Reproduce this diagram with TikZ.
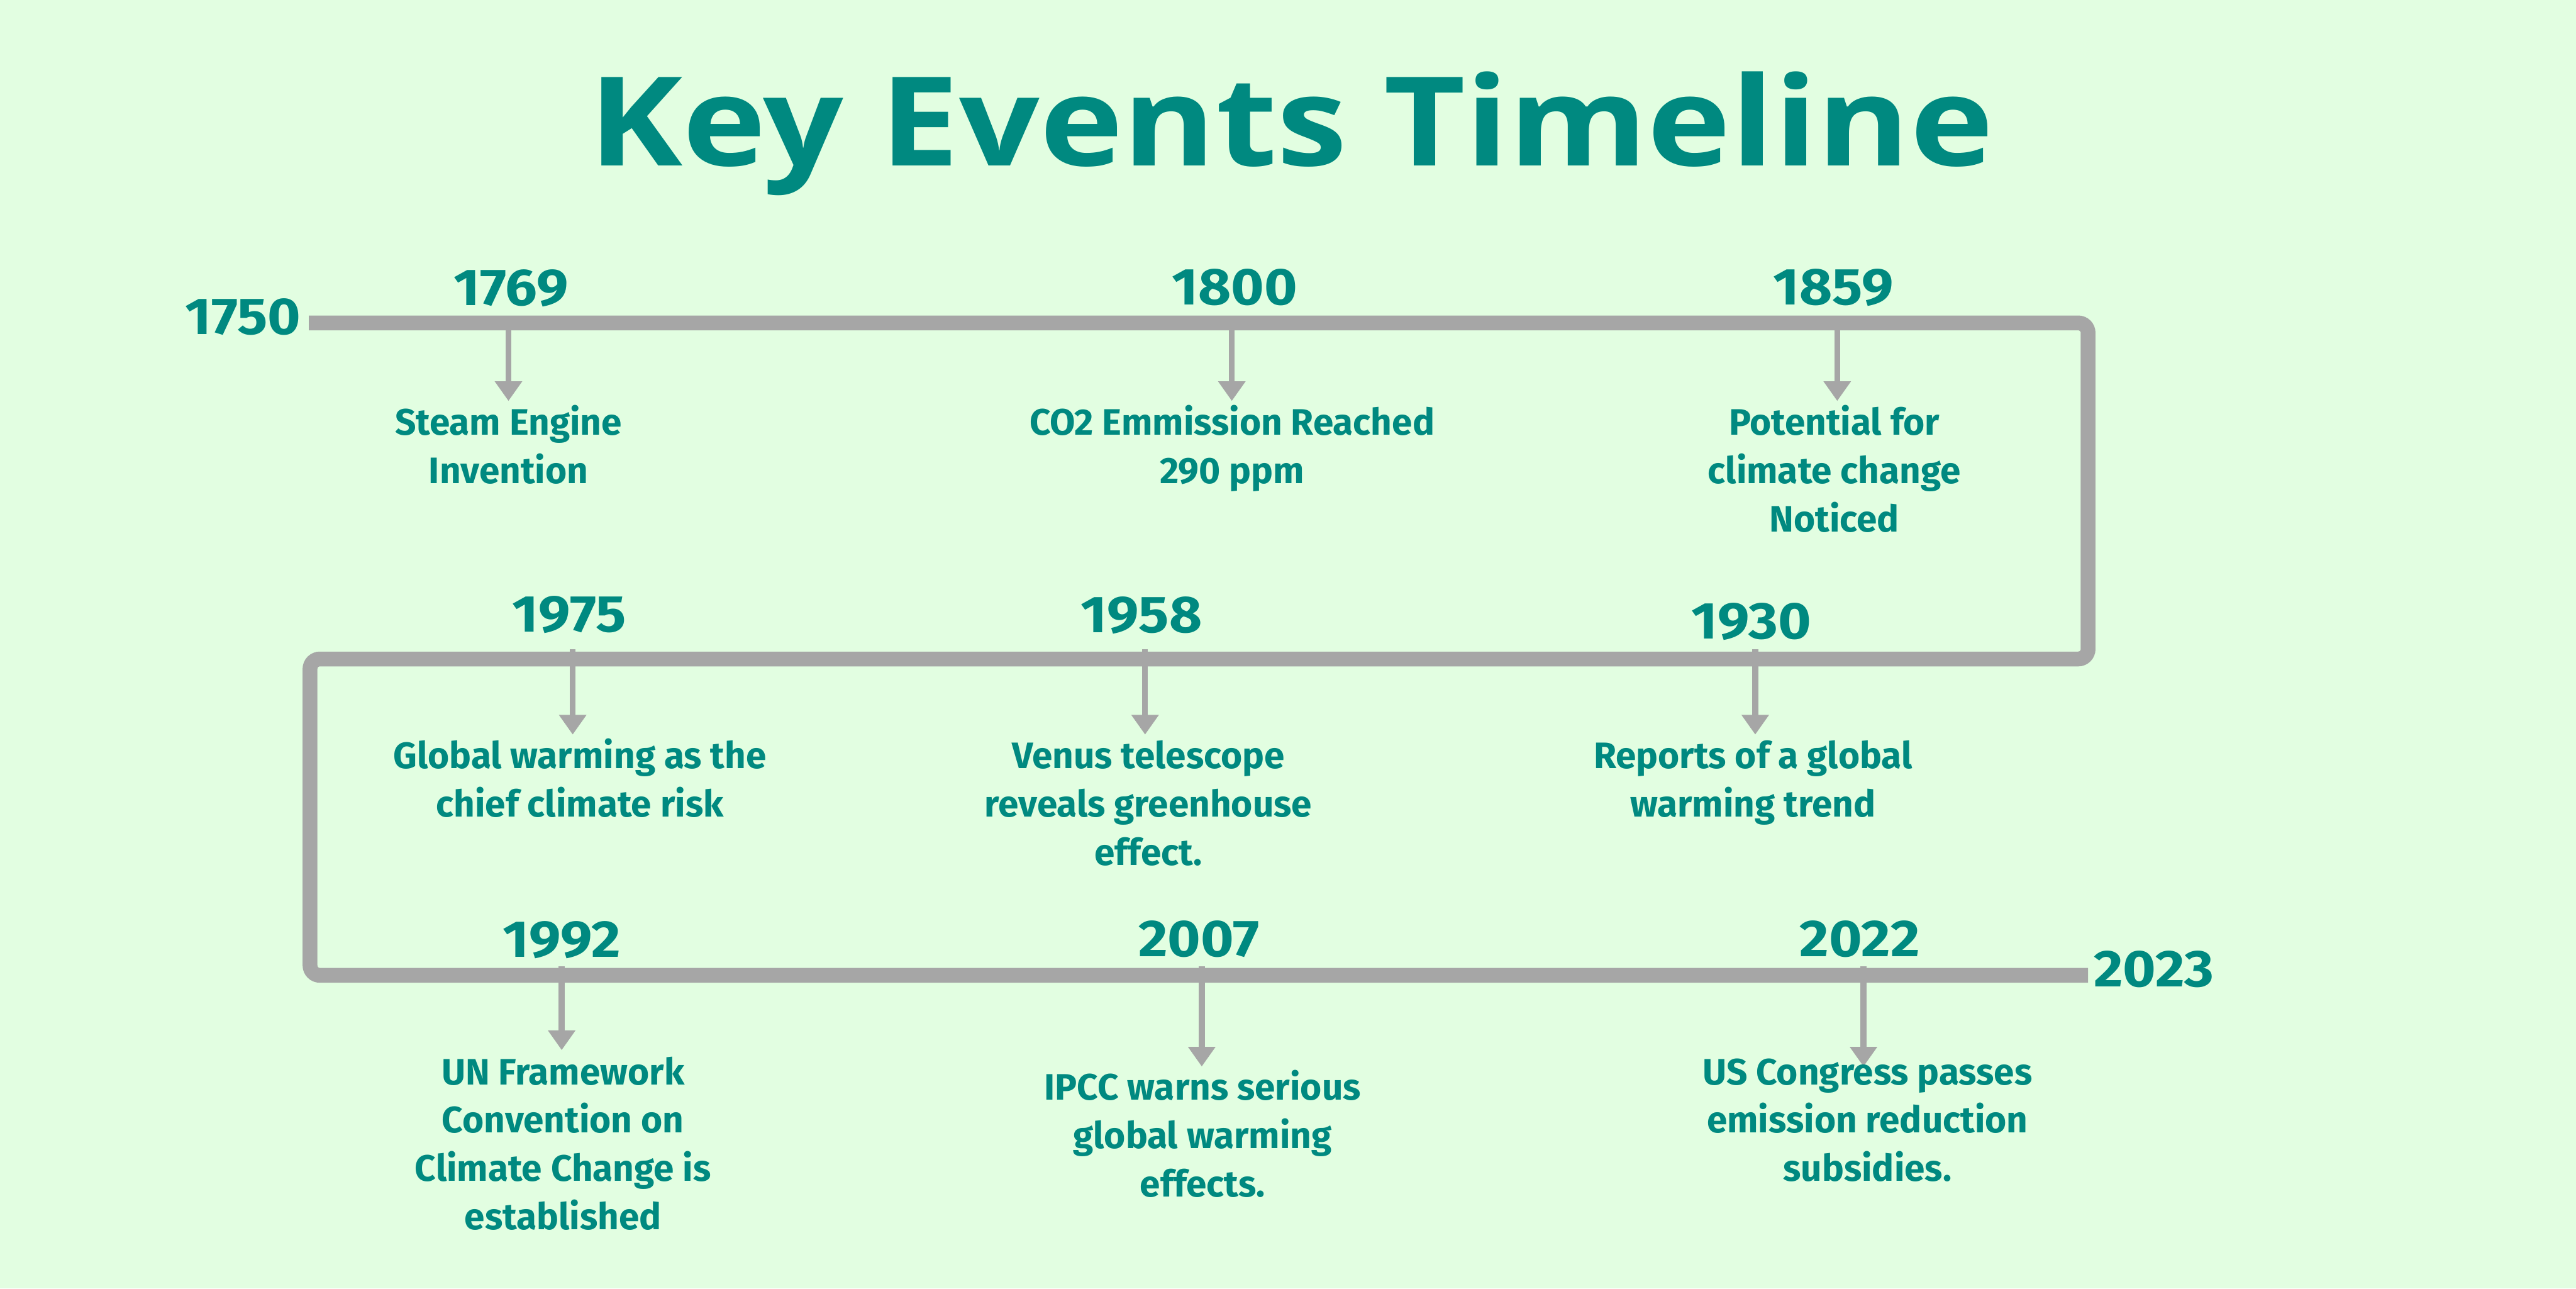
\documentclass[tikz,border=0pt]{standalone}
\usepackage{fontspec}
\setmainfont{Fira Sans}
\newfontfamily\titlefont{Open Sans}[FakeStretch=1.14]
\newfontfamily\yearfont{Fira Sans}[FakeStretch=1.09]
\usetikzlibrary{arrows.meta}
\definecolor{bgc}{RGB}{226,254,225}
\definecolor{tealtx}{RGB}{0,137,128}
\definecolor{linegray}{RGB}{166,166,166}
\begin{document}
\begin{tikzpicture}[x=1pt,y=-1pt,
  year/.style={font=\yearfont\fontsize{31.6}{36}\selectfont\bfseries, text=tealtx, inner sep=0pt, anchor=base},
  lbl/.style={font=\fontsize{22.4}{29.4}\selectfont\bfseries, text=tealtx, inner sep=0pt, anchor=base, align=center},
  arr/.style={draw=linegray, line width=3.6pt, -{Triangle[width=16pt,length=12pt]}},
  tline/.style={draw=linegray, line width=9pt, rounded corners=6pt}]
\fill[bgc] (0,0) rectangle (1568,784);
\useasboundingbox (0,0) rectangle (1568,784);
% title
\node[font=\titlefont\bfseries\fontsize{75.4}{80}\selectfont, text=tealtx, inner sep=0pt, anchor=base] (title) at (786,101) {Key Events Timeline};
% main line
\coordinate (p0) at (188,196.5);
\coordinate (p1) at (1271,196.5);
\coordinate (p2) at (1271,401);
\coordinate (p3) at (188.7,401);
\coordinate (p4) at (188.7,593.5);
\coordinate (p5) at (1271,593.5);
\draw[tline] (p0) -- (p1) -- (p2) -- (p3) -- (p4) -- (p5);
% end labels
\node[year] (y1750) at (148,203.5) {1750};
\node[year] (y2023) at (1311,600.3) {2023};
% row 1
\node[year] (y1769) at (311,185.7) {1769};
\node[year] (y1800) at (751.5,185.5) {1800};
\node[year] (y1859) at (1116,185.3) {1859};
\coordinate (s1769) at (309.5,196.5);
\coordinate (t1769) at (309.5,244);
\coordinate (s1800) at (749.8,196.5);
\coordinate (t1800) at (749.8,244);
\coordinate (s1859) at (1118.3,196.5);
\coordinate (t1859) at (1118.3,244);
\draw[arr] (s1769) -- (t1769);
\draw[arr] (s1800) -- (t1800);
\draw[arr] (s1859) -- (t1859);
% label anchor = baseline of the last line
\node[lbl] (l1769) at (309.5,294.1) {Steam Engine\\Invention};
\node[lbl] (l1800) at (750,294.1) {CO2 Emmission Reached\\290 ppm};
\node[lbl] (l1859) at (1116.5,323.5) {Potential for\\climate change\\Noticed};
% row 2
\node[year] (y1975) at (346.5,384.5) {1975};
\node[year] (y1958) at (694.8,384.8) {1958};
\node[year] (y1930) at (1066,388.8) {1930};
\coordinate (s1975) at (348.6,395);
\coordinate (t1975) at (348.6,447);
\coordinate (s1958) at (697,395);
\coordinate (t1958) at (697,447);
\coordinate (s1930) at (1068.4,395);
\coordinate (t1930) at (1068.4,447);
\draw[arr] (s1975) -- (t1975);
\draw[arr] (s1958) -- (t1958);
\draw[arr] (s1930) -- (t1930);
\node[lbl] (l1975) at (353,497.1) {Global warming as the\\chief climate risk};
\node[lbl] (l1958) at (699,526.5) {Venus telescope\\reveals greenhouse\\effect.};
\node[lbl] (l1930) at (1067,497.1) {Reports of a global\\warming trend};
% row 3
\node[year] (y1992) at (341.8,582.3) {1992};
\node[year] (y2007) at (729.7,582.1) {2007};
\node[year] (y2022) at (1132,582.1) {2022};
\coordinate (s1992) at (341.9,588);
\coordinate (t1992) at (341.9,639);
\coordinate (s2007) at (731.5,588);
\coordinate (t2007) at (731.5,649);
\coordinate (s2022) at (1134.3,588);
\coordinate (t2022) at (1134.3,649);
\draw[arr] (s1992) -- (t1992);
\draw[arr] (s2007) -- (t2007);
\draw[arr] (s2022) -- (t2022);
\node[lbl] (l1992) at (342.7,748.2) {UN Framework\\Convention on\\Climate Change is\\established};
\node[lbl] (l2007) at (732,728.3) {IPCC warns serious\\global warming\\effects.};
\node[lbl] (l2022) at (1136.7,718.8) {US Congress passes\\emission reduction\\subsidies.};
\end{tikzpicture}
\end{document}
